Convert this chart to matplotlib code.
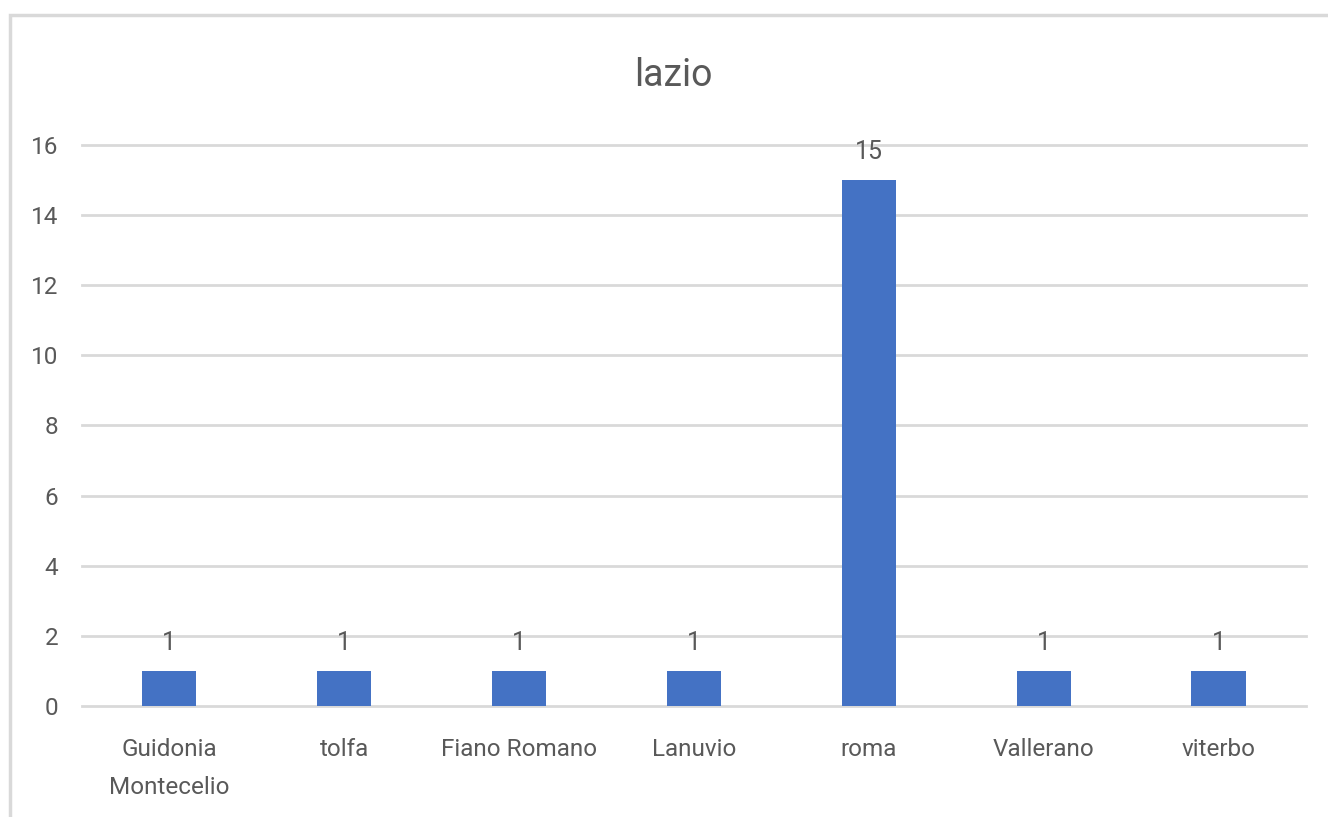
import matplotlib.pyplot as plt
from matplotlib.patches import Rectangle

# data
comuni = ['Guidonia\nMontecelio', 'tolfa', 'Fiano Romano', 'Lanuvio', 'roma', 'Vallerano', 'viterbo']
conteggi = [1, 1, 1, 1, 15, 1, 1]
yticks = [0, 2, 4, 6, 8, 10, 12, 14, 16]

plt.rcParams['font.family'] = ['Roboto', 'DejaVu Sans']
testo = '#595959'
griglia = '#d9d9d9'

fig = plt.figure(figsize=(13.28, 8.17), dpi=100)
ax = fig.add_axes([0.0617, 0.1359, 0.9217, 0.6866])

# chart border like the excel frame
fig.patches.append(Rectangle((10 / 1328, -0.1), 1.2, 1 - 15 / 817 + 0.1, transform=fig.transFigure,
                             fill=False, edgecolor=griglia, linewidth=2.5))

x = range(len(comuni))
bars = ax.bar(x, conteggi, width=0.31, color='#4472C4', zorder=3)
for b, v in zip(bars, conteggi):
    ax.text(b.get_x() + b.get_width() / 2, v + 0.45, str(v), ha='center', va='bottom',
            fontsize=18, color=testo)

ax.set_xlim(-0.5, len(comuni) - 0.5)
ax.set_ylim(0, 16)
ax.set_yticks(yticks)
ax.set_xticks(list(x))
ax.set_xticklabels(comuni, linespacing=1.85)
ax.tick_params(axis='both', length=0, labelsize=17.5, labelcolor=testo)
ax.tick_params(axis='x', pad=23)
ax.tick_params(axis='y', pad=17)
ax.grid(axis='y', color=griglia, linewidth=2, zorder=0)
for gl in ax.get_ygridlines():
    gl.set_clip_on(False)
for s in ax.spines.values():
    s.set_visible(False)

fig.text(0.507, 1 - 75 / 817, 'lazio', ha='center', va='center', fontsize=27, color=testo)

fig.savefig('out.png', dpi=100)
